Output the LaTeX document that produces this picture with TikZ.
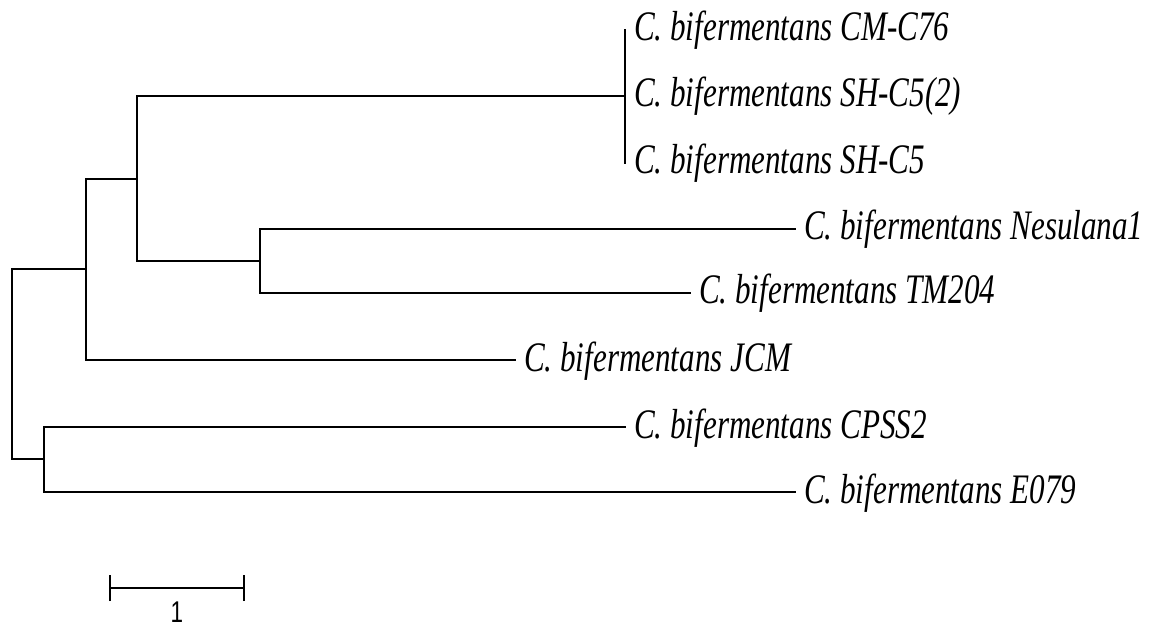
\documentclass[tikz,border=0pt]{standalone}
\usepackage{fontspec}
\setmainfont{Liberation Serif}
\newfontfamily\barfont{Liberation Sans}
\begin{document}
\begin{tikzpicture}[x=1pt,y=-1pt,
  branch/.style={line width=2.5pt,line cap=rect},
  leaf/.style={anchor=base west,inner sep=0pt,xscale=0.74,
    font=\fontsize{42}{42}\selectfont\itshape},
  barlabel/.style={inner sep=0pt,xscale=0.75,
    font=\fontsize{30}{30}\selectfont\barfont}]
\useasboundingbox (0,0) rectangle (1149,628);
\fill[white] (0,0) rectangle (1149,628);

% internal nodes of the tree
\coordinate (root) at (12,364);
\coordinate (n1) at (86,269);
\coordinate (n2) at (137,179);
\coordinate (n3) at (625,96);
\coordinate (n4) at (260,261);
\coordinate (n5) at (44,459);

% branch tips
\coordinate (tCM) at (625,30);
\coordinate (tSH2) at (625,96);
\coordinate (tSH) at (625,163);
\coordinate (tNes) at (795,229);
\coordinate (tTM) at (690,293);
\coordinate (tJCM) at (515,360);
\coordinate (tCP) at (625,427);
\coordinate (tE) at (795,492);

% tip labels
\node[leaf] (lCM)  at ([shift={(9,11)}]tCM)  {C. bifermentans CM-C76};
\node[leaf] (lSH2) at ([shift={(9,11)}]tSH2) {C. bifermentans SH-C5(2)};
\node[leaf] (lSH)  at ([shift={(9,11)}]tSH)  {C. bifermentans SH-C5};
\node[leaf] (lNes) at ([shift={(9,11)}]tNes) {C. bifermentans Nesulana1};
\node[leaf] (lTM)  at ([shift={(9,11)}]tTM)  {C. bifermentans TM204};
\node[leaf] (lJCM) at ([shift={(9,11)}]tJCM) {C. bifermentans JCM};
\node[leaf] (lCP)  at ([shift={(9,11)}]tCP)  {C. bifermentans CPSS2};
\node[leaf] (lE)   at ([shift={(9,11)}]tE)   {C. bifermentans E079};

% branches
\draw[branch] (root) |- (n1);
\draw[branch] (root) |- (n5);
\draw[branch] (n1) |- (n2);
\draw[branch] (n1) |- (tJCM);
\draw[branch] (n2) |- (n3);
\draw[branch] (n2) |- (n4);
\draw[branch] (n4) |- (tNes);
\draw[branch] (n4) |- (tTM);
\draw[branch] (n5) |- (tCP);
\draw[branch] (n5) |- (tE);
\draw[branch] (tCM) -- (tSH);

% scale bar
\coordinate (sbL) at (110,588);
\coordinate (sbR) at (244,588);
\draw[line width=2.5pt] (sbL) -- (sbR);
\draw[line width=2.5pt] ([yshift=-13]sbL) -- ([yshift=13]sbL);
\draw[line width=2.5pt] ([yshift=-13]sbR) -- ([yshift=13]sbR);
\node[barlabel,anchor=base] (sbT) at (177,622) {1};
\end{tikzpicture}
\end{document}
